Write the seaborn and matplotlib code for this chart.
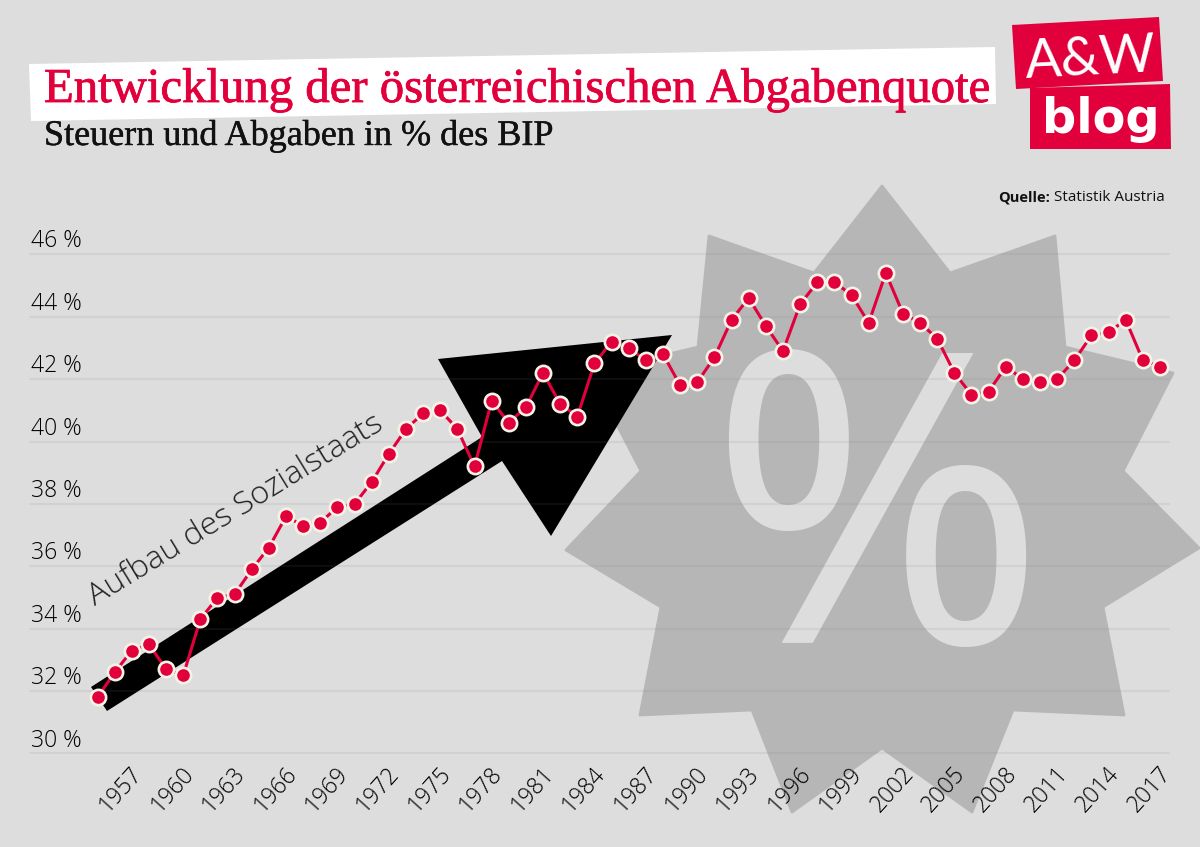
import matplotlib
matplotlib.use("Agg")
import matplotlib.pyplot as plt
import matplotlib.patheffects as pe
from matplotlib.patches import Polygon
from matplotlib.transforms import ScaledTranslation
import seaborn as sns
import pandas as pd

YEARS = list(range(1955, 2018))
QUOTE = [31.8, 32.6, 33.3, 33.5, 32.7, 32.5, 34.3, 35.0, 35.1, 35.9, 36.6, 37.6, 37.3, 37.4, 37.9,
         38.0, 38.7, 39.6, 40.4, 40.9, 41.0, 40.4, 39.2, 41.3, 40.6, 41.1, 42.2, 41.2, 40.8, 42.5,
         43.2, 43.0, 42.6, 42.8, 41.8, 41.9, 42.7, 43.9, 44.6, 43.7, 42.9, 44.4, 45.1, 45.1, 44.7,
         43.8, 45.4, 44.1, 43.8, 43.3, 42.2, 41.5, 41.6, 42.4, 42.0, 41.9, 42.0, 42.6, 43.4, 43.5,
         43.9, 42.6, 42.4]
XTICKS = list(range(1957, 2018, 3))
YTICKS = list(range(30, 47, 2))
TITLE = "Entwicklung der österreichischen Abgabenquote"
SUBTITLE = "Steuern und Abgaben in % des BIP"
ANNOT = "Aufbau des Sozialstaats"

W, H = 1200, 847
BG = "#DDDDDD"
RED = "#E2003C"
SANS = ["Open Sans", "DejaVu Sans"]

sns.set_theme(style="white", rc={"figure.facecolor": BG, "axes.facecolor": "none"})
plt.rcParams["font.family"] = SANS

fig = plt.figure(figsize=(W / 100, H / 100), dpi=100, facecolor=BG)
L, R, T, B = 30, 1169, 254.3, 753.5
ax = fig.add_axes([L / W, 1 - B / H, (R - L) / W, (B - T) / H])
ppy = (1160 - 97.5) / 62
ax.set_xlim(1955 - (97.5 - L) / ppy, 2017 + (R - 1160) / ppy)
ax.set_ylim(30, 46)
ax.set_axisbelow(False)


def px(points):
    return [(x / W, 1 - y / H) for x, y in points]


def shape(points, color, z=1, edge=0):
    p = Polygon(px(points), closed=True, facecolor=color,
                edgecolor=color if edge else "none", lw=edge, joinstyle="round",
                transform=fig.transFigure, clip_on=False, zorder=z)
    ax.add_patch(p)
    return p


def label(x, y, s, **kw):
    kw.setdefault("family", SANS)
    return fig.text(x / W, 1 - y / H, s, **kw)


# star badge with percent sign
star = [(882, 186), (950, 273), (1055, 236), (1065, 347), (1173, 373), (1123, 471), (1199, 548),
        (1103, 607), (1124, 715), (1013, 710), (972, 812), (882, 748), (792, 812), (752, 710),
        (640, 715), (661, 607), (566, 550), (641, 471), (590, 373), (698, 347), (709, 236), (814, 273)]
shape(star, "#B6B6B6", z=1, edge=2)
ax.text(877 / W, 1 - 643 / H, "%", fontsize=292, color=BG, ha="center", va="baseline",
        family=["Noto Sans"], transform=fig.transFigure, zorder=1.5, clip_on=False)

# big black arrow
arrow = [(91, 687), (107, 711), (502, 461), (551, 536), (672, 335), (438, 359), (482, 437)]
shape(arrow, "black", z=2)

# grid
for v in YTICKS:
    ax.axhline(v, color="#787878", alpha=0.11, lw=1.5, zorder=3, clip_on=False)

data = pd.DataFrame({"Jahr": YEARS, "Quote": QUOTE})
sns.lineplot(data=data, x="Jahr", y="Quote", ax=ax, color=RED, lw=2.2, marker="o", ms=11,
             mfc=RED, mec="#F5F3E6", mew=1.9, zorder=5, clip_on=False)

for s in ax.spines.values():
    s.set_visible(False)
ax.set_xlabel("")
ax.set_ylabel("")
ax.set_xticks(XTICKS)
ax.set_xticklabels([str(y) for y in XTICKS], rotation=48, ha="right", rotation_mode="anchor",
                   fontsize=16.5, color="#000000", weight=300)
ax.set_yticks(YTICKS)
ax.set_yticklabels([f"{v} %" for v in YTICKS], fontsize=16.5, color="#000000", ha="left",
                   va="baseline", weight=300)
ax.tick_params(axis="y", length=0, pad=-1)
ax.tick_params(axis="x", length=0, pad=6)
off_y = ScaledTranslation(0, 7 / 100, fig.dpi_scale_trans)
for t in ax.get_yticklabels():
    t.set_transform(t.get_transform() + off_y)
off_x = ScaledTranslation(-2 / 100, 0, fig.dpi_scale_trans)
for t in ax.get_xticklabels():
    t.set_transform(t.get_transform() + off_x)

# annotation
label(236, 510, ANNOT, fontsize=23.2, color="#222222", rotation=31.5, rotation_mode="anchor",
      ha="center", va="center", zorder=6, weight=300)

# title band
fig.add_artist(Polygon(px([(29, 64), (995, 47), (996, 104), (31, 121)]), closed=True,
                       facecolor="white", edgecolor="none", transform=fig.transFigure))
label(44, 102, TITLE, fontsize=35.1, color=RED, family=["Liberation Serif"], va="baseline",
      path_effects=[pe.withStroke(linewidth=0.6, foreground=RED)])
label(44, 145, SUBTITLE, fontsize=26, color="#111111", family=["Liberation Serif"], va="baseline",
      path_effects=[pe.withStroke(linewidth=0.3, foreground="#111111")])

# logo
fig.add_artist(Polygon(px([(1012, 25), (1159, 17), (1163, 81), (1016, 89)]), closed=True,
                       facecolor=RED, edgecolor="none", transform=fig.transFigure))
fig.add_artist(Polygon(px([(1030, 88), (1170, 84), (1171, 149), (1030, 149)]), closed=True,
                       facecolor=RED, edgecolor="none", transform=fig.transFigure))
label(1091, 75, "A&W", fontsize=39, color="white", ha="center", va="baseline", rotation=3,
      rotation_mode="anchor", family=["Lato", "DejaVu Sans"])
label(1100.5, 133, "blog", fontsize=34.5, color="white", ha="center", va="baseline", weight="bold",
      family=["DejaVu Sans"])

# source
label(998, 201, "Quelle:", fontsize=10.5, color="#111111", weight="bold", va="baseline")
label(1165, 201, "Statistik Austria", fontsize=11, color="#111111", ha="right", va="baseline")

fig.savefig("out.png", dpi=100, facecolor=BG)
